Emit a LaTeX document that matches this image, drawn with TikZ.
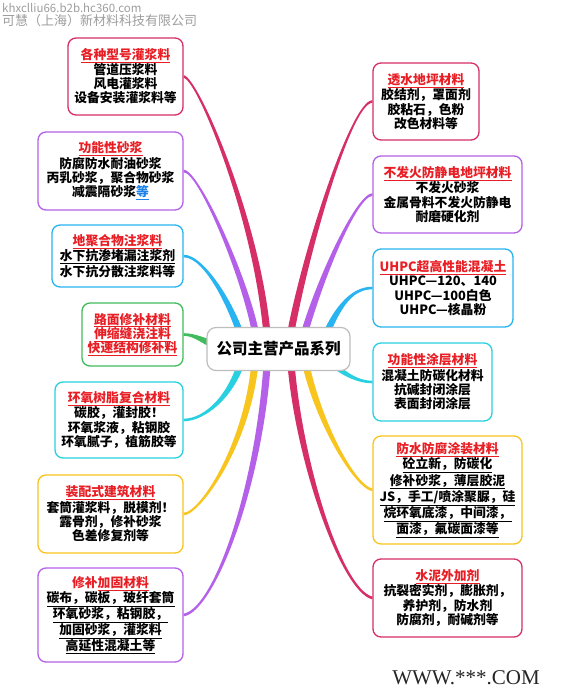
\documentclass[tikz,border=0pt]{standalone}
\usepackage{fontspec}
\setmainfont{Noto Sans CJK SC}
\newfontfamily\wwwfont{Liberation Serif}
\usepackage{tikz}
\usetikzlibrary{calc, backgrounds}
\definecolor{mmcrim}{RGB}{214,46,102}
\definecolor{mmpurple}{RGB}{180,96,232}
\definecolor{mmblue}{RGB}{40,180,240}
\definecolor{mmteal}{RGB}{40,208,224}
\definecolor{mmgreen}{RGB}{64,188,92}
\definecolor{mmyellow}{RGB}{248,196,30}
\definecolor{mmred}{RGB}{232,30,36}
\definecolor{mmlink}{RGB}{30,130,230}
\definecolor{mmgray}{RGB}{190,190,190}
\tikzset{
  topic/.style={draw=#1, line width=1.3pt, rounded corners=8pt, fill=white,
    align=center, inner sep=0pt, text=black,
    font=\fontsize{12.8}{14.3}\selectfont\bfseries},
  hub/.style={draw=mmgray, line width=1.2pt, rounded corners=9pt, fill=white,
    inner sep=0pt, font=\fontsize{15.5}{18}\selectfont\bfseries},
  wmark/.style={text=black!38, anchor=west, inner sep=0pt}
}
\newcommand{\ttl}[1]{\textcolor{mmred}{\underline{#1}}}
\newcommand{\ul}[1]{\underline{#1}}

\begin{document}
\begin{tikzpicture}[x=1pt, y=-1pt]
\useasboundingbox (0,0) rectangle (560,700);

% watermark
\node[wmark, font=\fontsize{11.5}{12}\selectfont] (url) at (2,8) {khxclliu66.b2b.hc360.com};
\node[wmark, font=\fontsize{13}{14}\selectfont] (firm) at (2,21) {可慧（上海）新材料科技有限公司};

% centre
\node[hub, minimum width=143pt, minimum height=43pt] (hub) at (278.5,349) {公司主营产品系列};

% ---- left topics ----
\node[topic=mmcrim, minimum width=115pt, minimum height=77pt] (l1) at (125.5,76.5)
  {\ttl{各种型号灌浆料}\\管道压浆料\\风电灌浆料\\设备安装灌浆料等};
\node[topic=mmpurple, minimum width=145pt, minimum height=78pt] (l2) at (110.5,171)
  {\ttl{功能性砂浆}\\防腐防水耐油砂浆\\丙乳砂浆，聚合物砂浆\\减震隔砂浆\textcolor{mmlink}{\underline{等}}};
\node[topic=mmblue, minimum width=131pt, minimum height=62pt] (l3) at (117.5,256)
  {\ttl{地聚合物注浆料}\\\ul{水下抗渗堵漏注浆剂}\\水下抗分散注浆料等};
\node[topic=mmgreen, minimum width=101pt, minimum height=63pt] (l4) at (132.5,334.5)
  {\ttl{路面修补材料}\\\ttl{伸缩缝浇注料}\\\ttl{快速结构修补料}};
\node[topic=mmteal, minimum width=128pt, minimum height=76pt] (l5) at (119,420)
  {\ttl{环氧树脂复合材料}\\碳胶，灌封胶！\\环氧浆液，粘钢胶\\环氧腻子，植筋胶等};
\node[topic=mmyellow, minimum width=145pt, minimum height=78pt] (l6) at (110.5,514)
  {\ttl{装配式建筑材料}\\套筒灌浆料，脱模剂！\\露骨剂，修补砂浆\\色差修复剂等};
\node[topic=mmpurple, minimum width=145pt, minimum height=94pt] (l7) at (110.5,615)
  {\textcolor{mmred}{修补\underline{加固材料}}\\\ul{碳布，碳板，玻纤套筒}\\\ul{环氧砂浆，粘钢胶，}\\\ul{加固砂浆，灌浆料}\\\ul{高延性混凝土等}};

% ---- right topics ----
\node[topic=mmcrim, minimum width=106pt, minimum height=77pt] (r1) at (426,101.5)
  {\ttl{透水地坪材料}\\胶结剂，罩面剂\\胶粘石，色粉\\改色材料等};
\node[topic=mmpurple, minimum width=149pt, minimum height=77pt] (r2) at (447.5,194.5)
  {\ttl{不发火防静电地坪材料}\\不发火砂浆\\金属骨料不发火防静电\\耐磨硬化剂};
\node[topic=mmblue, minimum width=140pt, minimum height=78pt] (r3) at (443,288)
  {\ttl{UHPC超高性能混凝土}\\UHPC—120、140\\UHPC—100白色\\UHPC—核晶粉};
\node[topic=mmteal, minimum width=119pt, minimum height=78pt] (r4) at (432.5,382)
  {\ttl{功能性涂层材料}\\混凝土防碳化材料\\抗碱封闭涂层\\表面封闭涂层};
\node[topic=mmyellow, minimum width=149pt, minimum height=108pt] (r5) at (447.5,490)
  {\ttl{防水防腐涂装材料}\\\ul{砼立新，防碳化}\\\ul{修补砂浆，薄层胶泥}\\\ul{JS，手工/喷涂聚脲，硅}\\\ul{烷环氧底漆，中间漆，}\\\ul{面漆，氟碳面漆等}};
\node[topic=mmcrim, minimum width=149pt, minimum height=78pt] (r6) at (447.5,598)
  {\ttl{水泥外加剂}\\抗裂密实剂，膨胀剂，\\养护剂，防水剂\\防腐剂，耐碱剂等};

\node[font=\wwwfont\fontsize{21}{21}\selectfont, text=black!85, inner sep=0pt] (www) at (466,678) {WWW.***.COM};

% branch roots inside the hub
\coordinate (sl1) at (268,349);  \coordinate (sl2) at (258,349);
\coordinate (sl3) at (245,349);  \coordinate (sl4) at (215,345);
\coordinate (sl5) at (245,349);  \coordinate (sl6) at (256,349);
\coordinate (sl7) at (268,349);
\coordinate (sr1) at (288,349);  \coordinate (sr2) at (300,349);
\coordinate (sr3) at (320,349);  \coordinate (sr4) at (320,349);
\coordinate (sr5) at (303,349);  \coordinate (sr6) at (290,349);

% tapered branches, behind the boxes
\begin{scope}[on background layer]
\fill[white] (0,0) rectangle (560,700);
\foreach \col/\s/\ax/\ay/\bx/\by/\e in {
    mmcrim/sl1/262/230/198/78/l1.east,
    mmpurple/sl2/253/295/200/171/l2.east,
    mmblue/sl3/235/310/205/256/l3.east,
    mmgreen/sl4/205/342/195/334.5/l4.east,
    mmteal/sl5/235/395/205/420/l5.east,
    mmyellow/sl6/252/440/200/514/l6.east,
    mmpurple/sl7/262/480/215/610/l7.east,
    mmcrim/sr1/300/270/350/102/r1.west,
    mmpurple/sr2/315/290/355/196/r2.west,
    mmblue/sr3/335/310/350/288/r3.west,
    mmteal/sr4/335/370/355/382/r4.west,
    mmyellow/sr5/312/410/352/485/r5.west,
    mmcrim/sr6/295/450/340/590/r6.west}{
  \coordinate (sa) at ($(\s)!3.6pt!90:(\ax,\ay)$);
  \coordinate (sb) at ($(\s)!3.6pt!-90:(\ax,\ay)$);
  \coordinate (ea) at ($(\e)!1.3pt!-90:(\bx,\by)$);
  \coordinate (eb) at ($(\e)!1.3pt!90:(\bx,\by)$);
  \fill[\col] (sa) .. controls ($(\ax,\ay)+(sa)-(\s)$) and ($(\bx,\by)+(ea)-(\e)$) .. (ea)
    -- (eb) .. controls ($(\bx,\by)+(eb)-(\e)$) and ($(\ax,\ay)+(sb)-(\s)$) .. (sb) -- cycle;
}
\end{scope}
\end{tikzpicture}
\end{document}
